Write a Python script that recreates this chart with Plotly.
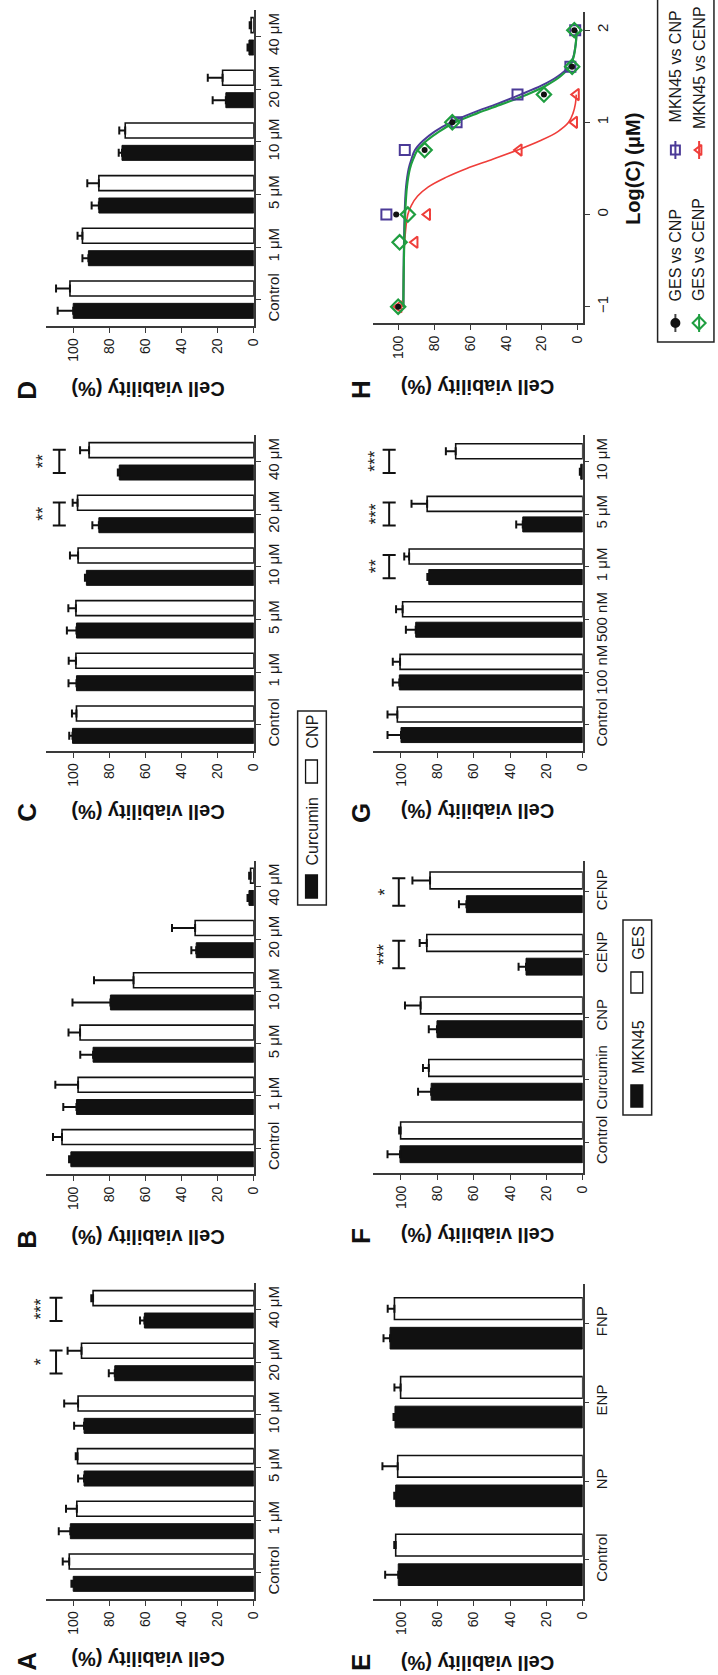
import numpy as np
import plotly.graph_objects as go

W, H = 718, 1675

# ---------------- data ----------------
cats_AD = ["Control", "1 μM", "5 μM", "10 μM", "20 μM", "40 μM"]

A_curcumin = [100.0, 101.6, 94.0, 94.0, 77.0, 60.6]
A_curcumin_err = [1.0, 6.4, 3.3, 5.5, 3.3, 2.4]
A_cnp = [102.2, 98.0, 97.6, 97.3, 95.4, 89.0]
A_cnp_err = [3.6, 6.0, 1.0, 7.7, 7.7, 1.0]
A_sig = {"20 μM": "*", "40 μM": "***"}

B_curcumin = [101.3, 98.2, 89.0, 79.4, 31.9, 2.7]
B_curcumin_err = [1.0, 7.3, 7.1, 21.0, 2.7, 0.8]
B_cnp = [106.2, 97.3, 96.2, 66.6, 32.5, 1.8]
B_cnp_err = [5.0, 12.6, 6.4, 21.9, 12.8, 0.8]
B_sig = {}

C_curcumin = [100.4, 98.2, 98.2, 92.7, 85.8, 74.5]
C_curcumin_err = [1.8, 4.4, 5.3, 0.8, 3.6, 0.8]
C_cnp = [98.2, 98.5, 98.5, 97.3, 97.6, 91.2]
C_cnp_err = [2.5, 4.0, 4.2, 4.5, 2.7, 5.0]
C_sig = {"20 μM": "**", "40 μM": "**"}

D_curcumin = [100.0, 91.6, 85.8, 73.0, 15.5, 2.7]
D_curcumin_err = [8.6, 3.3, 4.0, 1.8, 7.3, 0.8]
D_cnp = [101.8, 94.9, 85.8, 71.2, 17.3, 1.5]
D_cnp_err = [7.7, 2.7, 6.4, 3.3, 8.2, 0.8]
D_sig = {}

cats_E = ["Control", "NP", "ENP", "FNP"]
E_mkn45 = [101.5, 102.9, 103.3, 106.0]
E_mkn45_err = [7.2, 0.8, 0.8, 3.6]
E_ges = [102.9, 101.8, 100.2, 103.6]
E_ges_err = [0.8, 8.4, 3.4, 3.7]
E_sig = {}

cats_F = ["Control", "Curcumin", "CNP", "CENP", "CFNP"]
F_mkn45 = [100.5, 83.4, 80.2, 31.2, 64.0]
F_mkn45_err = [6.9, 7.2, 4.5, 4.1, 4.1]
F_ges = [100.2, 84.7, 89.2, 85.8, 84.0]
F_ges_err = [0.8, 3.2, 8.6, 3.9, 9.7]
F_sig = {"CENP": "***", "CFNP": "*"}

cats_G = ["Control", "100 nM", "500 nM", "1 μM", "5 μM", "10 μM"]
G_mkn45 = [100.0, 100.9, 91.9, 84.7, 33.0, 1.1]
G_mkn45_err = [7.4, 3.6, 5.4, 0.8, 3.6, 0.5]
G_ges = [102.0, 100.5, 99.1, 95.5, 85.6, 69.9]
G_ges_err = [5.4, 4.0, 3.6, 2.7, 8.6, 5.4]
G_sig = {"1 μM": "**", "5 μM": "***", "10 μM": "***"}

# panel H: concentrations (μM) and measured viabilities
H_conc = [0.1, 0.5, 1, 5, 10, 20, 40, 100]
H_ges_cnp = [100.4, None, 101.5, 85.6, 70.1, 18.8, 3.1, 1.8]
H_ges_cenp = [100.4, 99.6, 95.0, 85.6, 70.1, 18.8, 3.0, 1.8]
H_mkn_cnp = [None, None, 107.0, 96.7, 67.7, 33.6, 4.0, 1.3]
H_mkn_cenp = [100.0, 91.0, 84.0, 32.7, 1.7, 0.7, None, None]

# fitted curves (log10 C, viability)
curve_log_cnp = [-1, -0.5, 0, 0.3, 0.5, 0.6, 0.7, 0.8, 0.9, 1.0, 1.1, 1.2, 1.3, 1.4, 1.5, 1.6, 1.7, 1.85, 2.0]
curve_mkn_cnp = [97.5, 97.3, 96.8, 96.0, 94.5, 93.0, 91.0, 86.5, 80.0, 71.0, 59.0, 45.0, 32.0, 20.0, 11.0, 5.0, 2.5, 1.0, 0.5]
curve_ges_cenp = [97.5, 97.2, 96.5, 95.5, 93.8, 92.0, 89.5, 84.5, 77.5, 68.5, 56.0, 42.0, 28.5, 17.5, 9.5, 4.5, 2.3, 1.0, 0.5]
curve_log_cenp = [-1, -0.5, -0.3, 0, 0.1, 0.2, 0.3, 0.4, 0.5, 0.6, 0.7, 0.8, 0.9, 1.0, 1.1, 1.2, 1.3]
curve_mkn_cenp = [97.5, 97.2, 96.8, 95.0, 93.0, 89.5, 83.5, 74.0, 62.0, 47.5, 33.5, 21.0, 11.0, 5.0, 2.5, 1.2, 0.7]

value_ticks = [0, 20, 40, 60, 80, 100]
log_ticks = [-1, 0, 1, 2]

# ---------------- styling / layout helpers ----------------
FONT = "Liberation Sans, Arial, sans-serif"
BLK = "#111111"
AX = "#3a3a3a"
PURPLE = "#4b3a97"
GREEN = "#1f9e40"
RED = "#ef3e3a"


def xd(a, b):
    return [a / W, b / W]


def yd(top, bottom):
    return [1 - bottom / H, 1 - top / H]


def px(x):
    return x / W


def py(y):
    return 1 - y / H


fig = go.Figure()
shapes = []
annotations = []
layout = dict(
    width=W, height=H, margin=dict(l=0, r=0, t=0, b=0),
    paper_bgcolor="white", plot_bgcolor="rgba(0,0,0,0)",
    showlegend=False, barmode="overlay",
    font=dict(family=FONT, color="#1a1a1a"),
)

bar_panels = [
    dict(i=1, cats=cats_AD, s1=A_curcumin, e1=A_curcumin_err, s2=A_cnp, e2=A_cnp_err, sig=A_sig,
         xpx=(47, 256.7), ypx=(1283, 1599), vmax=114.8, off=(-0.355, 0.07, 0.285), bx=109.5, sx=117.7),
    dict(i=2, cats=cats_AD, s1=B_curcumin, e1=B_curcumin_err, s2=B_cnp, e2=B_cnp_err, sig=B_sig,
         xpx=(47, 256.7), ypx=(860.7, 1174.3), vmax=114.8, off=(-0.355, 0.07, 0.285), bx=109.5, sx=117.7),
    dict(i=3, cats=cats_AD, s1=C_curcumin, e1=C_curcumin_err, s2=C_cnp, e2=C_cnp_err, sig=C_sig,
         xpx=(47, 256.7), ypx=(435, 751), vmax=114.8, off=(-0.355, 0.07, 0.285), bx=107.7, sx=116.8),
    dict(i=4, cats=cats_AD, s1=D_curcumin, e1=D_curcumin_err, s2=D_cnp, e2=D_cnp_err, sig=D_sig,
         xpx=(47, 256.7), ypx=(10, 326), vmax=114.8, off=(-0.355, 0.07, 0.285), bx=109.5, sx=117.7),
    dict(i=5, cats=cats_E, s1=E_mkn45, e1=E_mkn45_err, s2=E_ges, e2=E_ges_err, sig=E_sig,
         xpx=(377, 589.3), ypx=(1284, 1599.3), vmax=115.5, off=(-0.325, 0.05, 0.275), bx=105, sx=113),
    dict(i=6, cats=cats_F, s1=F_mkn45, e1=F_mkn45_err, s2=F_ges, e2=F_ges_err, sig=F_sig,
         xpx=(377, 589.3), ypx=(860.7, 1173.3), vmax=115.5, off=(-0.33, 0.05, 0.27), bx=101.2, sx=109),
    dict(i=7, cats=cats_G, s1=G_mkn45, e1=G_mkn45_err, s2=G_ges, e2=G_ges_err, sig=G_sig,
         xpx=(377, 589.3), ypx=(435, 751), vmax=115.5, off=(-0.34, 0.05, 0.285), bx=106.5, sx=114),
]

for p in bar_panels:
    i = p["i"]
    n = len(p["cats"])
    layout[f"xaxis{i}"] = dict(
        domain=xd(*p["xpx"]), range=[p["vmax"], 0], anchor=f"y{i}", side="bottom",
        tickmode="array", tickvals=value_ticks, tickangle=-90,
        ticks="outside", ticklen=5, tickwidth=1.3, tickcolor=AX,
        showline=True, linecolor=AX, linewidth=1.5,
        showgrid=False, zeroline=False, tickfont=dict(size=14, family=FONT, color="#1a1a1a"),
        fixedrange=True,
    )
    layout[f"yaxis{i}"] = dict(
        domain=yd(*p["ypx"]), range=[-0.5, n - 0.5], anchor=f"x{i}", side="right",
        type="category", tickangle=-90,
        ticks="outside", ticklen=5, tickwidth=1.3, tickcolor=AX,
        showline=True, linecolor=AX, linewidth=1.5,
        showgrid=False, zeroline=False, tickfont=dict(size=15, family=FONT, color="#1a1a1a"),
        fixedrange=True,
    )
    o1, o2, bw = p["off"]
    fig.add_trace(go.Bar(
        y=p["cats"], x=p["s1"], orientation="h", width=bw, offset=o1,
        marker=dict(color=BLK, line=dict(color=BLK, width=1)),
        error_x=dict(type="data", symmetric=False, array=p["e1"], arrayminus=[0] * n,
                     color=BLK, thickness=2, width=4),
        xaxis=f"x{i}", yaxis=f"y{i}",
    ))
    fig.add_trace(go.Bar(
        y=p["cats"], x=p["s2"], orientation="h", width=bw, offset=o2,
        marker=dict(color="white", line=dict(color=BLK, width=1.6)),
        error_x=dict(type="data", symmetric=False, array=p["e2"], arrayminus=[0] * n,
                     color=BLK, thickness=2, width=4),
        xaxis=f"x{i}", yaxis=f"y{i}",
    ))
    # significance brackets
    cap = 3.6
    x0p, x1p = p["xpx"]
    for cat, stars in p["sig"].items():
        k = p["cats"].index(cat)
        y0, y1 = k - 0.22, k + 0.22
        ln = dict(color=BLK, width=2)
        shapes.append(dict(type="line", xref=f"x{i}", yref=f"y{i}", x0=p["bx"], x1=p["bx"], y0=y0, y1=y1, line=ln))
        shapes.append(dict(type="line", xref=f"x{i}", yref=f"y{i}", x0=p["bx"] - cap, x1=p["bx"] + cap, y0=y0, y1=y0, line=ln))
        shapes.append(dict(type="line", xref=f"x{i}", yref=f"y{i}", x0=p["bx"] - cap, x1=p["bx"] + cap, y0=y1, y1=y1, line=ln))
        # star label sits just beyond the axis range, so place it in paper x
        star_px = x0p + (p["vmax"] - p["sx"]) / p["vmax"] * (x1p - x0p)
        annotations.append(dict(xref="paper", yref=f"y{i}", x=px(star_px), y=k, text=stars, showarrow=False,
                                textangle=-90, font=dict(size=18, family=FONT, color="#222"),
                                xanchor="center", yanchor="middle"))

# ---------------- panel H ----------------
layout["xaxis8"] = dict(
    domain=xd(377, 590), range=[114.6, -3.3], anchor="y8", side="bottom",
    tickmode="array", tickvals=value_ticks, tickangle=-90,
    ticks="outside", ticklen=5, tickwidth=1.3, tickcolor=AX,
    showline=True, linecolor=AX, linewidth=1.5,
    showgrid=False, zeroline=False, tickfont=dict(size=14, family=FONT, color="#1a1a1a"),
    fixedrange=True,
)
layout["yaxis8"] = dict(
    domain=yd(11.7, 323.3), range=[-1.18, 2.2], anchor="x8", side="right",
    tickmode="array", tickvals=log_ticks, tickangle=-90,
    ticks="outside", ticklen=5, tickwidth=1.3, tickcolor=AX,
    showline=True, linecolor=AX, linewidth=1.5,
    showgrid=False, zeroline=False, tickfont=dict(size=15, family=FONT, color="#1a1a1a"),
    fixedrange=True,
)
H_log = list(np.log10(H_conc))

fig.add_trace(go.Scatter(x=curve_mkn_cenp, y=curve_log_cenp, mode="lines", line=dict(color=RED, width=1.6, shape="spline"),
                         xaxis="x8", yaxis="y8"))
fig.add_trace(go.Scatter(x=curve_mkn_cnp, y=curve_log_cnp, mode="lines", line=dict(color=PURPLE, width=2, shape="spline"),
                         xaxis="x8", yaxis="y8"))
fig.add_trace(go.Scatter(x=curve_ges_cenp, y=curve_log_cnp, mode="lines", line=dict(color=GREEN, width=2.2, shape="spline"),
                         xaxis="x8", yaxis="y8"))
fig.add_trace(go.Scatter(x=H_mkn_cenp, y=H_log, mode="markers",
                         marker=dict(symbol="triangle-left-open", size=10, color=RED, line=dict(width=2)),
                         xaxis="x8", yaxis="y8"))
fig.add_trace(go.Scatter(x=H_mkn_cnp, y=H_log, mode="markers",
                         marker=dict(symbol="square-open", size=10, color=PURPLE, line=dict(width=2)),
                         xaxis="x8", yaxis="y8"))
fig.add_trace(go.Scatter(x=H_ges_cenp, y=H_log, mode="markers",
                         marker=dict(symbol="diamond-open", size=11, color=GREEN, line=dict(width=2.2)),
                         xaxis="x8", yaxis="y8"))
fig.add_trace(go.Scatter(x=H_ges_cnp, y=H_log, mode="markers",
                         marker=dict(symbol="circle", size=6, color=BLK),
                         xaxis="x8", yaxis="y8"))

# ---------------- pixel overlay axis for legend glyphs ----------------
layout["xaxis9"] = dict(domain=[0, 1], range=[0, W], anchor="y9", visible=False, fixedrange=True)
layout["yaxis9"] = dict(domain=[0, 1], range=[H, 0], anchor="x9", visible=False, fixedrange=True)

legend_H = [
    # (x, y, line colour, symbol, size, label, label centre y, marker colour)
    (683, 323, "#444", "circle", 8, "GES vs CNP", 255, BLK),
    (683, 150, PURPLE, "square-open", 9, "MKN45 vs CNP", 66, PURPLE),
    (707, 323, GREEN, "diamond-open", 10, "GES vs CENP", 250, GREEN),
    (707, 150, RED, "triangle-left-open", 9, "MKN45 vs CENP", 68, RED),
]
for (lx, ly, lcol, sym, sz, lab, laby, mcol) in legend_H:
    fig.add_trace(go.Scatter(x=[lx, lx], y=[ly - 9, ly + 9], mode="lines", line=dict(color=lcol, width=2),
                             xaxis="x9", yaxis="y9", hoverinfo="skip"))
    fig.add_trace(go.Scatter(x=[lx], y=[ly], mode="markers",
                             marker=dict(symbol=sym, size=sz, color=mcol, line=dict(width=2, color=mcol)),
                             xaxis="x9", yaxis="y9", hoverinfo="skip"))
    annotations.append(dict(xref="paper", yref="paper", x=px(lx), y=py(laby), text=lab, showarrow=False,
                            textangle=-90, font=dict(size=16, family=FONT, color="#1a1a1a"),
                            xanchor="center", yanchor="middle"))
shapes.append(dict(type="rect", xref="paper", yref="paper", x0=px(665), x1=px(722), y0=py(342), y1=py(-5),
                   line=dict(color="#222", width=1.5), fillcolor="rgba(0,0,0,0)"))


# ---------------- bar legends ----------------
def bar_legend(x0, x1, top, bottom, items):
    shapes.append(dict(type="rect", xref="paper", yref="paper", x0=px(x0), x1=px(x1), y0=py(bottom), y1=py(top),
                       line=dict(color="#222", width=1.5), fillcolor="rgba(0,0,0,0)"))
    for (label, ly, fill, ry0, ry1) in items:
        annotations.append(dict(xref="paper", yref="paper", x=px((x0 + x1) / 2 + 0.5), y=py(ly), text=label,
                                showarrow=False, textangle=-90,
                                font=dict(size=16, family=FONT, color="#1a1a1a"),
                                xanchor="center", yanchor="middle"))
        shapes.append(dict(type="rect", xref="paper", yref="paper", x0=px(x0 + 8), x1=px(x0 + 20),
                           y0=py(ry1), y1=py(ry0), line=dict(color=BLK, width=1.3), fillcolor=fill))


bar_legend(301, 330, 711, 905, [("Curcumin", 831, BLK, 875, 898), ("CNP", 731, "white", 760, 783)])
bar_legend(630, 659, 920, 1115, [("MKN45", 1047, BLK, 1085, 1107), ("GES", 943, "white", 972, 993)])

# ---------------- titles and panel letters ----------------
title_pos = [(150, 1659), (150, 1237), (150, 812), (150, 389),
             (483, 1663), (483, 1235), (483, 811), (483, 387)]
for (tx, ty) in title_pos:
    annotations.append(dict(xref="paper", yref="paper", x=px(tx), y=py(ty), text="<b>Cell viability (%)</b>",
                            showarrow=False, textangle=180, font=dict(size=20, family=FONT, color="#111"),
                            xanchor="center", yanchor="middle"))

letters = [("A", 27, 1661), ("B", 27, 1239), ("C", 27, 812), ("D", 27, 390),
           ("E", 365, 1662), ("F", 365, 1236), ("G", 365, 813), ("H", 365, 389)]
for (lt, lx, ly) in letters:
    annotations.append(dict(xref="paper", yref="paper", x=px(lx), y=py(ly), text=f"<b>{lt}</b>",
                            showarrow=False, textangle=-90, font=dict(size=26, family=FONT, color="#111"),
                            xanchor="center", yanchor="middle"))

annotations.append(dict(xref="paper", yref="paper", x=px(640), y=py(169), text="<b>Log(C) (μM)</b>",
                        showarrow=False, textangle=-90, font=dict(size=20, family=FONT, color="#111"),
                        xanchor="center", yanchor="middle"))

layout["shapes"] = shapes
layout["annotations"] = annotations
fig.update_layout(**layout)

fig.write_html("out.html", config={"displayModeBar": False},
               post_script="document.body.style.margin='0';document.body.style.overflow='hidden';")
